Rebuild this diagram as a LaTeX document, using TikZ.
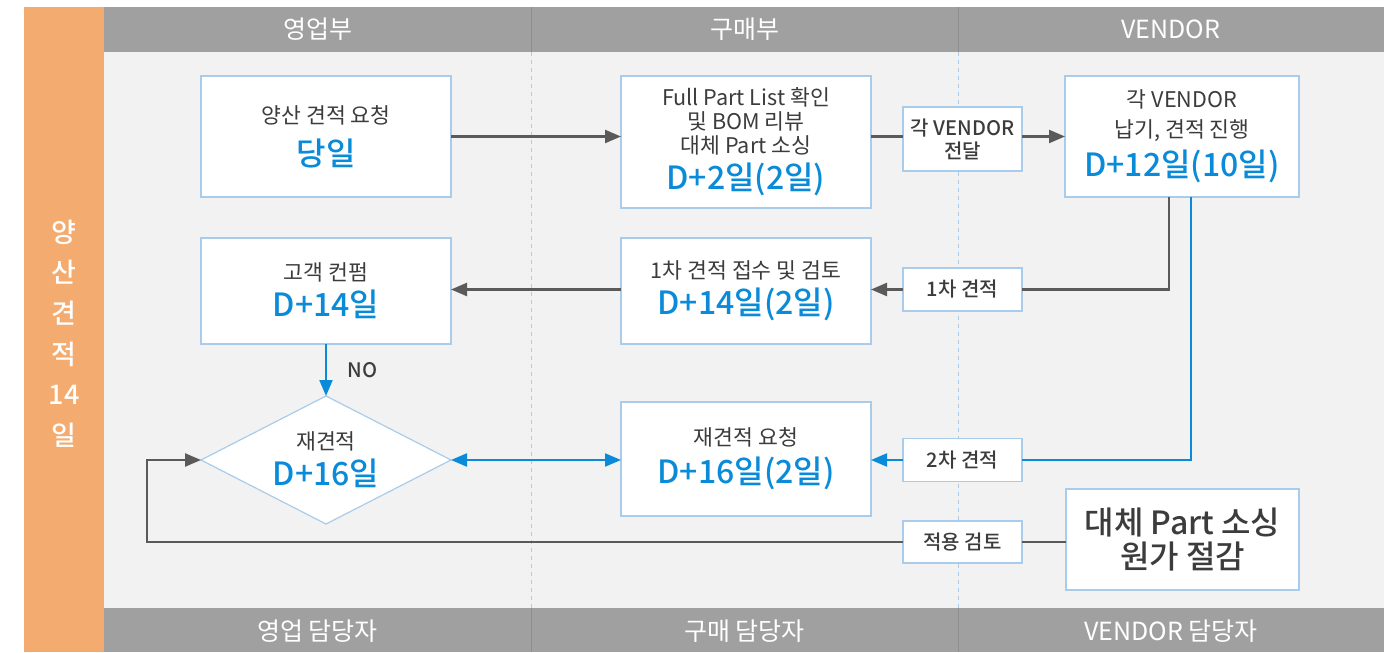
\documentclass[tikz,border=0pt]{standalone}
\usepackage{fontspec}
\setmainfont{Noto Sans CJK KR}
\newfontfamily\medfont{Noto Sans CJK KR Medium}
\usepackage{xcolor}
\usetikzlibrary{positioning, arrows.meta, calc, shapes.geometric}
\definecolor{laneorange}{HTML}{F4AB6F}
\definecolor{headgray}{HTML}{A0A0A0}
\definecolor{sepgray}{HTML}{8E8E8E}
\definecolor{lanebg}{HTML}{F2F2F2}
\definecolor{boxblue}{HTML}{A8CCEA}
\definecolor{dayblue}{HTML}{0A8BD9}
\definecolor{linegray}{HTML}{5A5A5A}
\definecolor{txtgray}{HTML}{3C3C3C}

\newcommand\dday[1]{{\medfont\fontsize{16}{17.5}\selectfont\color{dayblue}#1}}

\tikzset{
  lanehead/.style={text=white, font=\fontsize{12.5}{14}\selectfont},
  sidetext/.style={text=white, align=center, font=\medfont\fontsize{13.5}{20.3}\selectfont},
  lanesep/.style={draw=boxblue, line width=0.5pt, dash pattern=on 2pt off 2pt},
  headsep/.style={draw=sepgray, line width=0.5pt},
  stepbox/.style={draw=boxblue, fill=white, line width=0.6pt, align=center, text=txtgray,
                  font=\fontsize{10.8}{12}\selectfont, inner sep=0pt, outer sep=0pt},
  tagbox/.style={stepbox, font=\medfont\fontsize{10}{11.5}\selectfont, minimum width=59.5pt},
  decide/.style={stepbox, diamond, aspect=2},
  plain/.style={draw=linegray, line width=1.15pt},
  flow/.style={plain, -{Triangle[length=8pt,width=6.5pt]}},
  bplain/.style={draw=dayblue, line width=1.1pt},
  bflow/.style={bplain, -{Triangle[length=8pt,width=6.5pt]}},
  bboth/.style={bplain, {Triangle[length=8pt,width=6.5pt]}-{Triangle[length=8pt,width=6.5pt]}}
}

\begin{document}
\begin{tikzpicture}[x=0.5pt, y=-0.5pt]
  % lanes
  \fill[white] (0,0) rectangle (1394,652);
  \fill[laneorange] (24,7) rectangle (104,652);
  \fill[lanebg] (104,52) rectangle (1384,608);
  \fill[headgray] (104,7) rectangle (1384,52);
  \fill[headgray] (104,608) rectangle (1384,652);
  \foreach \x in {531,958}{
    \draw[lanesep] (\x,52) -- (\x,608);
    \draw[headsep] (\x,7) -- (\x,52);
    \draw[headsep] (\x,608) -- (\x,652);
  }
  \node[lanehead] (sales) at (317.5,29.5) {영업부};
  \node[lanehead] (buy) at (744.5,29.5) {구매부};
  \node[lanehead] (vend) at (1171,29.5) {VENDOR};
  \node[lanehead] (salesman) at (317.5,631) {영업 담당자};
  \node[lanehead] (buyman) at (744.5,631) {구매 담당자};
  \node[lanehead] (vendman) at (1171,631) {VENDOR 담당자};
  \node[sidetext] (total) at (64,333.5) {양\\산\\견\\적\\14\\일};

  % steps
  \node[stepbox, minimum width=125pt, minimum height=60.5pt] (req) at (326,136.5)
    {양산 견적 요청\\[6pt]\dday{당일}};
  \node[stepbox, minimum width=125pt, minimum height=66pt] (check) at (746,142)
    {Full Part List 확인\\및 BOM 리뷰\\대체 Part 소싱\\[3pt]\dday{D+2일(2일)}};
  \node[tagbox, minimum height=32pt] (vsend) at (962.5,139) {각 VENDOR\\전달};
  \node[stepbox, minimum width=117pt, minimum height=60.5pt] (vendor) at (1182,136.5)
    {각 VENDOR\\[3pt]납기, 견적 진행\\[3pt]\dday{D+12일(10일)}};

  \node[stepbox, minimum width=125pt, minimum height=53pt] (confirm) at (326,291)
    {고객 컨펌\\[3pt]\dday{D+14일}};
  \node[stepbox, minimum width=125pt, minimum height=53pt] (review) at (746,291)
    {1차 견적 접수 및 검토\\[3pt]\dday{D+14일(2일)}};
  \node[tagbox, minimum height=21.5pt] (first) at (962.5,289.5) {1차 견적};

  \node[decide, minimum width=125pt, minimum height=64pt] (redo) at (326,460)
    {재견적\\[3pt]\dday{D+16일}};
  \node[stepbox, minimum width=125pt, minimum height=57pt] (rereq) at (746,459)
    {재견적 요청\\[4pt]\dday{D+16일(2일)}};
  \node[tagbox, minimum height=21.5pt] (second) at (962.5,460) {2차 견적};

  \node[tagbox, minimum height=21pt] (apply) at (962.5,542) {적용 검토};
  \node[stepbox, minimum width=116.5pt, minimum height=50.5pt, text=txtgray,
        font=\medfont\fontsize{16}{17}\selectfont] (cost) at (1182.5,539.5)
    {대체 Part 소싱\\원가 절감};
  \coordinate (loop) at (147,542);

  % connectors
  \draw[flow] (req.east) -- (check.west |- req);
  \draw[plain] (check.east |- req) -- (vsend.west |- req);
  \draw[flow] (vsend.east |- req) -- (vendor.west |- req);
  \draw[plain] ($(vendor.south)+(-13,0)$) |- (first.east);
  \draw[flow] (first.west) -- (review.east |- first);
  \draw[flow] (review.west |- first) -- (confirm.east |- first);
  \draw[bflow] (confirm.south) -- (redo.north)
    node[midway, right=7pt, text=txtgray, font=\medfont\fontsize{10}{12}\selectfont] (no) {NO};
  \draw[bplain] ($(vendor.south)+(9,0)$) |- (second.east);
  \draw[bflow] (second.west) -- (rereq.east |- second);
  \draw[bboth] (redo.east) -- (rereq.west |- redo.east);
  \draw[plain] (cost.west |- apply) -- (apply.east);
  \draw[flow] (apply.west) -- (loop) |- (redo.west);
\end{tikzpicture}
\end{document}
